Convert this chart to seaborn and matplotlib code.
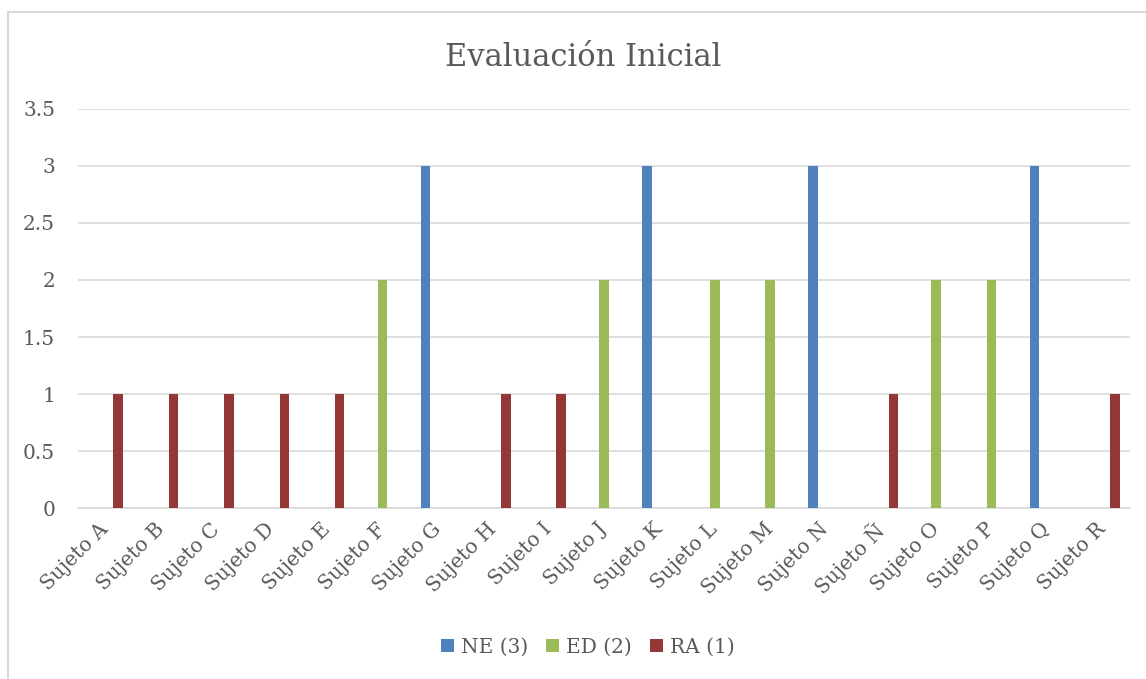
import matplotlib
matplotlib.use("Agg")
import matplotlib.pyplot as plt
from matplotlib.lines import Line2D
from matplotlib.patches import Patch
import seaborn as sns
import pandas as pd

# Chart data
subjects = ["Sujeto A", "Sujeto B", "Sujeto C", "Sujeto D", "Sujeto E", "Sujeto F",
            "Sujeto G", "Sujeto H", "Sujeto I", "Sujeto J", "Sujeto K", "Sujeto L",
            "Sujeto M", "Sujeto N", "Sujeto Ñ", "Sujeto O", "Sujeto P", "Sujeto Q",
            "Sujeto R"]
series_names = ["NE (3)", "ED (2)", "RA (1)"]
ne_values = [0, 0, 0, 0, 0, 0, 3, 0, 0, 0, 3, 0, 0, 3, 0, 0, 0, 3, 0]
ed_values = [0, 0, 0, 0, 0, 2, 0, 0, 0, 2, 0, 2, 2, 0, 0, 2, 2, 0, 0]
ra_values = [1, 1, 1, 1, 1, 0, 0, 1, 1, 0, 0, 0, 0, 0, 1, 0, 0, 0, 1]
y_ticks = [0, 0.5, 1, 1.5, 2, 2.5, 3, 3.5]
y_tick_labels = ["0", "0.5", "1", "1.5", "2", "2.5", "3", "3.5"]
title = "Evaluación Inicial"

colors = {"NE (3)": "#4F81BD", "ED (2)": "#9BBB59", "RA (1)": "#953735"}
text_color = "#595959"
grid_color = "#D9D9D9"

rows = []
for name, vals in zip(series_names, [ne_values, ed_values, ra_values]):
    for s, v in zip(subjects, vals):
        rows.append({"Sujeto": s, "Serie": name, "Valor": v})
df = pd.DataFrame(rows)

sns.set_theme(style="white")
plt.rcParams["font.family"] = ["DejaVu Serif"]

fig = plt.figure(figsize=(11.46, 6.79), dpi=100)
ax = fig.add_axes([78 / 1146, 1 - 508.3 / 679, (1130 - 78) / 1146, (508.3 - 108.7) / 679])

sns.barplot(data=df, x="Sujeto", y="Valor", hue="Serie", order=subjects,
            hue_order=series_names, palette=colors, width=0.68, gap=0.24,
            linewidth=0, saturation=1, errorbar=None, legend=False, ax=ax, zorder=3)

ax.set_xlim(-0.5, len(subjects) - 0.5)
ax.set_ylim(0, 3.5)
ax.set_yticks(y_ticks)
ax.set_yticklabels(y_tick_labels)
ax.yaxis.grid(True, color=grid_color, linewidth=1.2, zorder=0)
ax.set_axisbelow(True)
for side in ["left", "right", "top"]:
    ax.spines[side].set_visible(False)
ax.spines["bottom"].set_color(grid_color)
ax.spines["bottom"].set_linewidth(1.2)
ax.set_xlabel("")
ax.set_ylabel("")
ax.tick_params(axis="y", length=0, pad=16.5, labelsize=14.5, labelcolor=text_color)
ax.tick_params(axis="x", length=0, pad=13, labelsize=14.5, labelcolor=text_color)
for lbl in ax.get_xticklabels():
    lbl.set_rotation(45)
    lbl.set_ha("right")
    lbl.set_va("center")
    lbl.set_rotation_mode("anchor")

fig.text(583 / 1146, 1 - 57 / 679, title, ha="center", va="center",
         fontsize=22, color=text_color)

handles = [Patch(facecolor=colors[n], edgecolor="none") for n in series_names]
fig.legend(handles, series_names, loc="center", bbox_to_anchor=(588 / 1146, 1 - 647 / 679),
           ncol=3, frameon=False, fontsize=14.5, labelcolor=text_color,
           handlelength=0.65, handleheight=0.65, handletextpad=0.35, columnspacing=0.9)

# Chart frame (left and top edges)
fig.add_artist(Line2D([7.5 / 1146, 7.5 / 1146], [0, 1 - 11.5 / 679],
                      transform=fig.transFigure, color=grid_color, linewidth=1.5))
fig.add_artist(Line2D([7.5 / 1146, 1], [1 - 11.5 / 679, 1 - 11.5 / 679],
                      transform=fig.transFigure, color=grid_color, linewidth=1.5))

fig.savefig("out.png", dpi=100, facecolor="white")
